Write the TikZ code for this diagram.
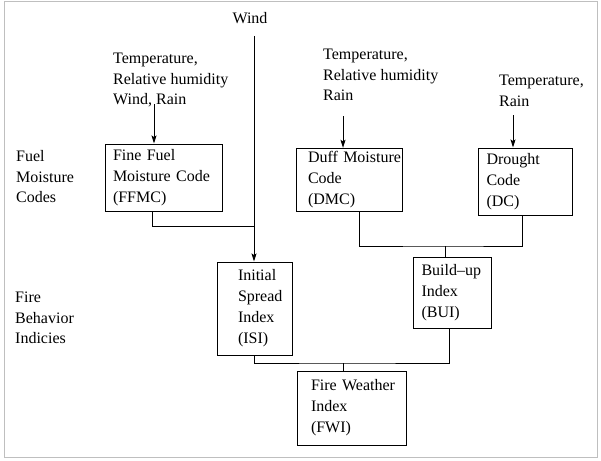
\documentclass[tikz,border=0pt]{standalone}
\usepackage{fontspec}
\setmainfont{Liberation Serif}
\usepackage{tikz}
\usetikzlibrary{arrows.meta}
\newcommand{\nohyph}{\hyphenpenalty 10000\relax}
\tikzset{
  %Define standard arrow tip
  >={Stealth[length=8pt,width=5pt,inset=1.5pt]},
  %Define style for boxes
  kode/.style={
    rectangle,
    draw=black, line width=1pt,
    align=left,
    font=\fontsize{16}{21}\selectfont\nohyph},
  %Define style for labels
  merke/.style={
    inner sep=0pt,
    align=left,
    font=\fontsize{16}{20.5}\selectfont},
  % Define arrow style
  pil/.style={
    ->,
    line width=1pt},
  % Define line style
  linje/.style={
    line width=1pt}
}

\begin{document}
\begin{tikzpicture}[x=1pt,y=-1pt]
  \useasboundingbox (0,0) rectangle (601,460);
  \draw[black!25,line width=1pt] (4,2) rectangle (597,457);
  \node[merke] (wind) at (250,18) {Wind};
  \node[merke,anchor=west] (ffmcin) at (113,80) {Temperature,\\Relative humidity\\Wind, Rain};
  \node[merke,anchor=west] (dmcin) at (323,75) {Temperature,\\Relative humidity\\Rain};
  \node[merke,anchor=west] (dcin) at (499,91) {Temperature,\\Rain};
  \node[merke,anchor=west] (fuel) at (16,177) {Fuel\\Moisture\\Codes};
  \node[merke,anchor=west] (fire) at (15,318) {Fire\\Behavior\\Indicies};
  \node[kode,minimum width=117pt,minimum height=67pt,text width=101pt] (ffmc) at (163.5,177.5) {Fine Fuel\\Moisture Code\\(FFMC)};
  \node[kode,minimum width=106pt,minimum height=62pt,text width=82pt] (dmc) at (349,180) {Duff~Moisture\\Code\\(DMC)};
  \node[kode,minimum width=94pt,minimum height=67pt,text width=78pt] (dc) at (525.5,181.5) {Drought\\Code\\(DC)};
  \node[kode,minimum width=75pt,minimum height=93pt,text width=33pt] (isi) at (254.5,308.5) {Initial\\Spread\\Index\\(ISI)};
  \node[kode,minimum width=78pt,minimum height=71pt,text width=61pt] (bui) at (452,292.5) {Build--up\\Index\\(BUI)};
  \node[kode,minimum width=109pt,minimum height=74pt,text width=81pt] (fwi) at (351.5,408) {Fire~Weather\\Index\\(FWI)};
  \coordinate (windtop) at (254,36);
  \coordinate (ffmctop) at (154,104);
  \coordinate (dmctop) at (343,116);
  \coordinate (dctop) at (513,115);
  \coordinate (ffmcwind) at (254,226);
  \coordinate (buitop) at (445.5,246);
  \coordinate (fwitop) at (343,363);
  \draw[pil] (windtop) -- (windtop |- isi.north);
  \draw[pil] (ffmctop) -- (ffmctop |- ffmc.north);
  \draw[pil] (dmctop) -- (dmctop |- dmc.north);
  \draw[pil] (dctop) -- (dctop |- dc.north);
  \draw[linje] ([xshift=-11.5pt]ffmc.south) |- (ffmcwind);
  \draw[linje] ([xshift=10pt]dmc.south) |- (buitop) -| ([xshift=-3.5pt]dc.south);
  \draw[linje] (buitop) -- (buitop |- bui.north);
  \draw[linje] (isi.south) |- (fwitop) -| ([xshift=-3pt]bui.south);
  \draw[linje] (fwitop) -- (fwitop |- fwi.north);
\end{tikzpicture}
\end{document}
